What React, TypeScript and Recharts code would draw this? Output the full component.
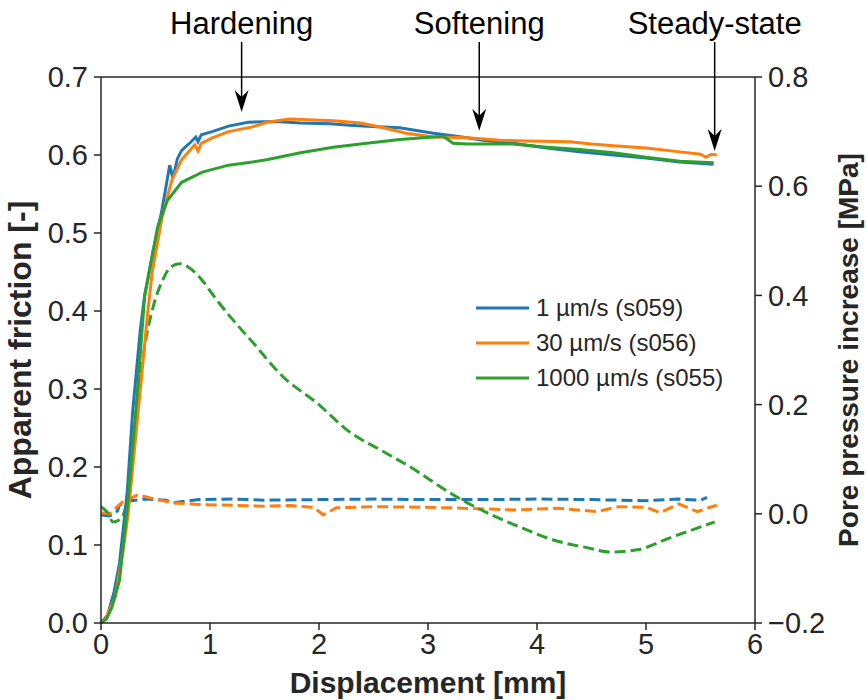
import {
  LineChart, Line, XAxis, YAxis, Legend, ReferenceLine, ReferenceDot
} from "recharts";

const FONT = '"Liberation Sans", Arial, sans-serif';
const INK = "#262626";

const BLUE = "#1f77b4";
const ORANGE = "#ff7f0e";
const GREEN = "#2ca02c";

const X_TICKS = [0, 1, 2, 3, 4, 5, 6];
const FRICTION_TICKS = [0, 0.1, 0.2, 0.3, 0.4, 0.5, 0.6, 0.7];
const PRESSURE_TICKS = [-0.2, 0, 0.2, 0.4, 0.6, 0.8];

// apparent friction, 1 um/s (s059)
const D_FRIC_S059 = [0, 0.06, 0.12, 0.17, 0.24, 0.29, 0.36, 0.4, 0.48, 0.56, 0.63, 0.66, 0.7, 0.74, 0.82, 0.87, 0.89, 0.92, 1.02, 1.17, 1.35, 1.6, 1.83, 2.1, 2.28, 2.44, 2.74, 3.05, 3.36, 3.5, 3.78, 4.09, 4.39, 4.7, 5.0, 5.31, 5.62];
const FRIC_S059 = [0, 0.01, 0.04, 0.077, 0.167, 0.27, 0.375, 0.42, 0.478, 0.53, 0.587, 0.57, 0.595, 0.606, 0.616, 0.623, 0.617, 0.626, 0.63, 0.637, 0.642, 0.643, 0.641, 0.64, 0.638, 0.637, 0.635, 0.628, 0.622, 0.619, 0.615, 0.609, 0.604, 0.6, 0.596, 0.591, 0.588];

// apparent friction, 30 um/s (s056)
const D_FRIC_S056 = [0, 0.04, 0.13, 0.2, 0.25, 0.34, 0.43, 0.47, 0.56, 0.65, 0.74, 0.86, 0.89, 0.92, 1.02, 1.17, 1.39, 1.52, 1.73, 1.95, 2.13, 2.38, 2.59, 2.8, 3.05, 3.36, 3.66, 3.9, 4.3, 4.5, 4.7, 5.0, 5.31, 5.5, 5.55, 5.6, 5.65];
const FRIC_S056 = [0, 0.005, 0.033, 0.09, 0.141, 0.27, 0.4, 0.45, 0.52, 0.568, 0.594, 0.613, 0.605, 0.615, 0.622, 0.63, 0.636, 0.642, 0.646, 0.645, 0.644, 0.641, 0.635, 0.628, 0.623, 0.622, 0.619, 0.618, 0.617, 0.614, 0.612, 0.609, 0.604, 0.601, 0.597, 0.601, 0.6];

// apparent friction, 1000 um/s (s055)
const D_FRIC_S055 = [0, 0.05, 0.1, 0.17, 0.25, 0.33, 0.4, 0.45, 0.52, 0.61, 0.74, 0.93, 1.17, 1.39, 1.52, 1.83, 2.13, 2.44, 2.74, 3.05, 3.14, 3.23, 3.36, 3.66, 3.78, 4.09, 4.39, 4.7, 5.0, 5.31, 5.62];
const FRIC_S055 = [0, 0.005, 0.02, 0.055, 0.16, 0.29, 0.418, 0.456, 0.508, 0.542, 0.565, 0.578, 0.587, 0.591, 0.594, 0.603, 0.61, 0.615, 0.62, 0.623, 0.624, 0.615, 0.614, 0.614, 0.614, 0.61, 0.607, 0.603, 0.597, 0.592, 0.59];

// pore pressure increase [MPa]
const D_PP_S059 = [0, 0.08, 0.15, 0.17, 0.27, 0.4, 0.6, 0.65, 0.9, 1.2, 1.5, 2.0, 2.5, 3.0, 3.5, 4.0, 4.5, 5.0, 5.3, 5.5, 5.56];
const PP_S059 = [-0.002, -0.004, 0.005, 0.016, 0.024, 0.027, 0.025, 0.02, 0.026, 0.027, 0.025, 0.026, 0.027, 0.026, 0.026, 0.027, 0.026, 0.024, 0.027, 0.025, 0.03];

const D_PP_S056 = [0, 0.08, 0.15, 0.2, 0.34, 0.45, 0.66, 0.9, 1.12, 1.5, 1.73, 1.95, 2.04, 2.16, 2.5, 2.93, 3.2, 3.5, 3.78, 4.2, 4.55, 4.75, 5.0, 5.13, 5.3, 5.47, 5.65];
const PP_S056 = [0.002, 0, 0.013, 0.022, 0.035, 0.029, 0.02, 0.017, 0.016, 0.014, 0.015, 0.012, -0.002, 0.011, 0.013, 0.012, 0.011, 0.009, 0.007, 0.01, 0.004, 0.013, 0.012, 0.002, 0.018, 0.004, 0.016];

const D_PP_S055 = [0, 0.06, 0.11, 0.17, 0.22, 0.29, 0.34, 0.4, 0.48, 0.57, 0.64, 0.72, 0.8, 0.91, 1.06, 1.25, 1.37, 1.67, 1.98, 2.28, 2.59, 2.9, 3.02, 3.23, 3.54, 3.84, 4.15, 4.46, 4.67, 4.92, 5.22, 5.63];
const PP_S055 = [0.013, 0.002, -0.015, -0.011, 0.007, 0.123, 0.214, 0.306, 0.38, 0.43, 0.452, 0.458, 0.452, 0.432, 0.392, 0.346, 0.319, 0.251, 0.203, 0.15, 0.114, 0.078, 0.062, 0.035, 0.002, -0.024, -0.048, -0.062, -0.07, -0.066, -0.044, -0.015];

// stage annotations: label, displacement, arrow tip (friction units)
const STAGES = ["Hardening", "Softening", "Steady-state"];
const STAGE_X = [1.29, 3.47, 5.63];
const STAGE_TIP = [0.655, 0.631, 0.605];

const zip = (xs: number[], ys: number[]) => xs.map((x, i) => ({ x, y: ys[i] }));

const fmtPressure = (v: number) => (v < 0 ? "\u2212" + Math.abs(v).toFixed(1) : v.toFixed(1));

const LEGEND_ITEMS = [
  { label: "1 µm/s (s059)", color: BLUE },
  { label: "30 µm/s (s056)", color: ORANGE },
  { label: "1000 µm/s (s055)", color: GREEN },
];

const renderLegend = () => (
  <svg width={280} height={115}>
    {LEGEND_ITEMS.map((it, i) => (
      <g key={it.label} transform={`translate(0, ${18 + i * 35})`}>
        <line x1={8} x2={61} y1={0} y2={0} stroke={it.color} strokeWidth={3} />
        <text x={68} y={0} dy="0.35em" fontSize={24} fontFamily={FONT} fill={INK}>{it.label}</text>
      </g>
    ))}
  </svg>
);

const ArrowHead = (props: any) => {
  const { cx, cy } = props;
  return <path d={`M${cx},${cy} L${cx - 7},${cy - 22} L${cx},${cy - 15} L${cx + 7},${cy - 22} Z`} fill="#000" />;
};

const StageText = (label: string) => (props: any) => (
  <text x={props.cx} y={props.cy} textAnchor="middle" dy="0.35em" fontSize={31} fontFamily={FONT} fill="#000">{label}</text>
);

const tickStyle = { fill: INK, fontSize: 29, fontFamily: FONT };

const axisTitle = (text: string, kind: "x" | "left" | "right") => (props: any) => {
  const vb = props.viewBox;
  if (kind === "x") {
    return <text x={vb.x + vb.width / 2} y={682} textAnchor="middle" dy="0.35em" fontSize={30} fontWeight="bold" fontFamily={FONT} fill={INK}>{text}</text>;
  }
  const x = kind === "left" ? 20 : 848;
  const y = vb.y + vb.height / 2;
  const size = kind === "left" ? 32 : 28;
  return <text x={x} y={y} transform={`rotate(-90, ${x}, ${y})`} textAnchor="middle" dy="0.35em" fontSize={size} fontWeight="bold" fontFamily={FONT} fill={INK}>{text}</text>;
};

const axisStroke = { stroke: INK, strokeWidth: 1.5 };

export default function App() {
  return (
    <div style={{ position: "absolute", left: 0, top: 0, background: "#fff", fontFamily: FONT }}>
      <LineChart width={867} height={700} margin={{ top: 77, right: 0, bottom: 0, left: 0 }}>
        <XAxis
          type="number" dataKey="x" domain={[0, 6]} ticks={X_TICKS} height={77}
          axisLine={axisStroke} tickLine={axisStroke}
          tickSize={7} tickMargin={3} tick={tickStyle} allowDecimals={false}
          label={{ content: axisTitle("Displacement [mm]", "x") }}
        />
        <YAxis
          yAxisId="f" domain={[0, 0.7]} ticks={FRICTION_TICKS} width={101} type="number"
          axisLine={axisStroke} tickLine={axisStroke}
          tickSize={7} tickMargin={6} tick={tickStyle} tickFormatter={(v: number) => v.toFixed(1)}
          label={{ content: axisTitle("Apparent friction [-]", "left") }}
        />
        <YAxis
          yAxisId="p" orientation="right" domain={[-0.2, 0.8]} ticks={PRESSURE_TICKS} width={112} type="number"
          axisLine={axisStroke} tickLine={axisStroke}
          tickSize={7} tickMargin={6} tick={tickStyle} tickFormatter={fmtPressure}
          label={{ content: axisTitle("Pore pressure increase [MPa]", "right") }}
        />
        <ReferenceLine yAxisId="f" y={0.7} stroke={INK} strokeWidth={1.5} />

        <Line data={zip(D_PP_S059, PP_S059)} dataKey="y" yAxisId="p" type="linear" stroke={BLUE} strokeWidth={3} strokeDasharray="11 5" dot={false} legendType="none" isAnimationActive={false} />
        <Line data={zip(D_PP_S056, PP_S056)} dataKey="y" yAxisId="p" type="linear" stroke={ORANGE} strokeWidth={3} strokeDasharray="11 5" dot={false} legendType="none" isAnimationActive={false} />
        <Line data={zip(D_PP_S055, PP_S055)} dataKey="y" yAxisId="p" type="monotone" stroke={GREEN} strokeWidth={3} strokeDasharray="11 5" dot={false} legendType="none" isAnimationActive={false} />

        <Line data={zip(D_FRIC_S059, FRIC_S059)} dataKey="y" name="1 µm/s (s059)" yAxisId="f" type="linear" stroke={BLUE} strokeWidth={3} dot={false} isAnimationActive={false} />
        <Line data={zip(D_FRIC_S056, FRIC_S056)} dataKey="y" name="30 µm/s (s056)" yAxisId="f" type="linear" stroke={ORANGE} strokeWidth={3} dot={false} isAnimationActive={false} />
        <Line data={zip(D_FRIC_S055, FRIC_S055)} dataKey="y" name="1000 µm/s (s055)" yAxisId="f" type="linear" stroke={GREEN} strokeWidth={3} dot={false} isAnimationActive={false} />

        {STAGES.map((label, i) => (
          <ReferenceLine
            key={"l" + label} yAxisId="f" ifOverflow="visible" stroke="#000" strokeWidth={1.5}
            segment={[{ x: STAGE_X[i], y: 0.745 }, { x: STAGE_X[i], y: STAGE_TIP[i] + 0.01 }]}
          />
        ))}
        {STAGES.map((label, i) => (
          <ReferenceDot key={"h" + label} yAxisId="f" x={STAGE_X[i]} y={STAGE_TIP[i]} ifOverflow="visible" shape={ArrowHead} />
        ))}
        {STAGES.map((label, i) => (
          <ReferenceDot key={"t" + label} yAxisId="f" x={STAGE_X[i]} y={0.769} ifOverflow="visible" shape={StageText(label)} />
        ))}

        <Legend
          layout="horizontal" verticalAlign="middle" align="center"
          wrapperStyle={{ left: 468, top: 290, width: 280, height: 115 }}
          content={renderLegend}
        />
      </LineChart>
    </div>
  );
}
